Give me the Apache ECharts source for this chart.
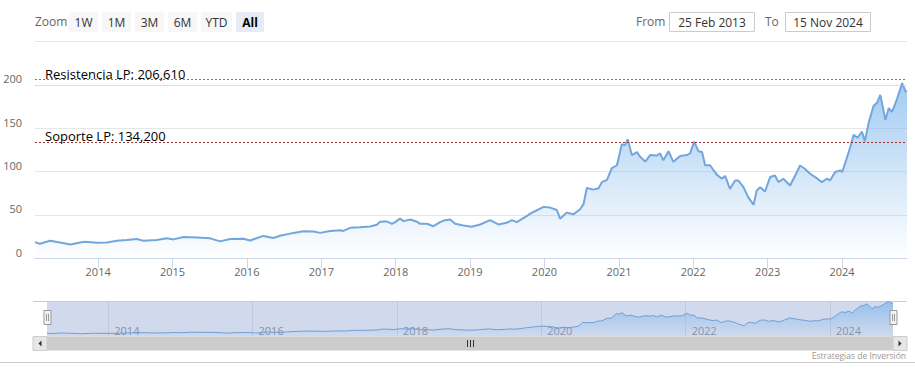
<!DOCTYPE html>
<html><head><meta charset="utf-8">
<script src="https://cdn.jsdelivr.net/npm/echarts@6/dist/echarts.min.js"></script>
<style>html,body{margin:0;padding:0;background:#fff}#c{width:915px;height:374px}</style>
</head><body><div id="c"></div>
<script>
const dates = ['2013-02-25','2013-03-21','2013-05-10','2013-06-28','2013-08-17','2013-10-05','2013-10-29','2013-12-26',
'2014-02-13','2014-04-03','2014-05-22','2014-07-10','2014-08-11','2014-10-16','2014-12-04',
'2015-01-06','2015-02-24','2015-05-01','2015-07-05','2015-08-23','2015-10-11','2015-12-15',
'2016-01-17','2016-03-22','2016-05-11','2016-06-12','2016-08-17','2016-10-05','2016-11-23','2016-12-26',
'2017-02-13','2017-04-03','2017-04-19','2017-05-22','2017-07-10','2017-08-28','2017-09-30','2017-10-16','2017-11-18','2017-12-13','2017-12-29',
'2018-01-22','2018-02-08','2018-03-13','2018-04-15','2018-05-01','2018-06-03','2018-07-05','2018-08-07','2018-08-31','2018-09-25','2018-10-20','2018-11-29',
'2019-01-09','2019-02-19','2019-04-09','2019-05-20','2019-06-30','2019-07-25','2019-08-18','2019-10-06','2019-10-23','2019-11-08','2019-12-11','2019-12-27',
'2020-01-29','2020-03-02','2020-03-18','2020-04-20','2020-05-22','2020-06-24','2020-07-11','2020-07-27','2020-08-29','2020-09-23','2020-10-09','2020-11-03','2020-11-27','2020-12-22',
'2021-01-15','2021-01-31','2021-02-13','2021-03-05','2021-03-30','2021-04-15','2021-05-10','2021-06-03','2021-07-06','2021-07-22','2021-08-07','2021-09-01','2021-09-25','2021-10-28','2021-11-30','2021-12-16',
'2022-01-05','2022-01-26','2022-02-13','2022-02-28','2022-03-24','2022-04-26','2022-05-21','2022-06-06','2022-06-30','2022-07-25','2022-08-10','2022-09-04','2022-09-28','2022-10-24','2022-11-08','2022-11-25','2022-12-19',
'2023-01-13','2023-02-06','2023-02-23','2023-03-19','2023-04-21','2023-05-16','2023-06-09','2023-07-04','2023-07-28','2023-08-22','2023-09-24','2023-10-18','2023-11-04','2023-11-28','2023-12-23',
'2024-01-02','2024-01-25','2024-02-10','2024-02-27','2024-03-17','2024-04-08','2024-04-22','2024-05-11','2024-06-04','2024-06-21','2024-07-07','2024-08-01','2024-08-17','2024-09-03','2024-09-28','2024-10-22','2024-11-07','2024-11-15'];
const prices = [18.7,16.7,20.2,18.3,16.0,18.3,19.1,17.9,
18.3,20.2,21.0,22.2,20.2,21.0,23.0,
21.8,24.6,24.1,23.0,19.5,22.2,22.6,
20.6,25.8,23.4,26.0,29.3,31.2,30.8,29.3,
31.6,32.3,31.6,35.1,35.8,36.7,38.6,42.2,42.5,39.8,41.7,
45.7,42.9,44.8,42.2,39.8,39.8,37.0,41.7,44.0,44.8,39.8,37.8,
36.3,39.0,44.0,39.0,41.0,44.0,41.7,48.7,51.5,53.4,57.4,59.3,
58.5,55.7,45.7,52.7,50.7,56.6,62.4,81.0,79.2,80.8,87.8,90.5,104.0,107.3,
131.5,130.5,137.4,119.0,122.5,117.1,111.5,119.0,118.5,121.0,113.0,123.5,111.2,118.0,119.0,121.0,
134.5,123.5,122.5,107.3,107.3,96.5,91.7,95.0,80.0,89.7,89.7,82.0,70.3,61.6,78.0,82.0,77.0,
93.7,95.5,87.8,91.7,84.0,95.5,107.0,103.0,97.5,93.7,87.8,91.7,90.0,99.5,101.4,
99.5,116.0,128.0,142.4,139.0,146.0,135.0,156.5,176.0,179.5,188.5,159.5,173.0,169.0,184.5,202.0,193.0,192.0];
const yearTicks = ['2014-01-01','2015-01-01','2016-01-01','2017-01-01','2018-01-01','2019-01-01','2020-01-01','2021-01-01','2022-01-01','2023-01-01','2024-01-01'];
const navTicks = ['2014-01-01','2016-01-01','2018-01-01','2020-01-01','2022-01-01','2024-01-01'];
const plotLineValues = [206.61, 134.2];
const plotLineLabels = ['Resistencia LP: 206,610', 'Soporte LP: 134,200'];
const rangeButtons = ['1W','1M','3M','6M','YTD','All'];
const fromText = '25 Feb 2013', toText = '15 Nov 2024';
const startDate = '2013-02-25', endDate = '2024-11-15';
const creditText = 'Estrategias de Inversión';

const ts = s => { const p = s.split('-').map(Number); return new Date(p[0], p[1]-1, p[2]).getTime(); };
const seriesData = dates.map((d,i)=>[ts(d), prices[i]]);
const FONT = '"Open Sans", "Noto Sans", sans-serif';
const areaGrad = () => new echarts.graphic.LinearGradient(0,0,0,1,[{offset:0,color:'rgba(124,181,236,1)'},{offset:1,color:'rgba(124,181,236,0)'}]);
const yearFmt = v => String(new Date(v).getFullYear());

const chart = echarts.init(document.getElementById('c'), null, {renderer:'svg'});

const g = [];
g.push({type:'text', x:35, y:21.5, style:{text:'Zoom', fill:'#666', fontSize:12, fontFamily:FONT, verticalAlign:'middle', align:'left'}});
const btnX = [69, 102, 135, 168, 201, 236];
const btnW = [29, 29, 29, 29, 31, 28];
rangeButtons.forEach((b,i)=>{
  const sel = b === 'All';
  g.push({type:'rect', shape:{x:btnX[i], y:12, width:btnW[i], height:20}, style:{fill: sel?'#e6ebf5':'#f7f7f7'}});
  g.push({type:'text', x:btnX[i]+btnW[i]/2, y:22, style:{text:b, fill: sel?'#000':'#333', fontSize:12, fontWeight: sel?'bold':'normal', fontFamily:FONT, align:'center', verticalAlign:'middle'}});
});
g.push({type:'text', x:636, y:21.5, style:{text:'From', fill:'#666', fontSize:12, fontFamily:FONT, verticalAlign:'middle'}});
g.push({type:'rect', shape:{x:669.5, y:12.5, width:85, height:19}, style:{fill:'#fff', stroke:'#cccccc', lineWidth:1}});
g.push({type:'text', x:712, y:22, style:{text:fromText, fill:'#333', fontSize:12, fontFamily:FONT, align:'center', verticalAlign:'middle'}});
g.push({type:'text', x:765, y:21.5, style:{text:'To', fill:'#666', fontSize:12, fontFamily:FONT, verticalAlign:'middle'}});
g.push({type:'rect', shape:{x:785.5, y:12.5, width:85, height:19}, style:{fill:'#fff', stroke:'#cccccc', lineWidth:1}});
g.push({type:'text', x:828, y:22, style:{text:toText, fill:'#333', fontSize:12, fontFamily:FONT, align:'center', verticalAlign:'middle'}});
g.push({type:'line', shape:{x1:33, y1:301.5, x2:907, y2:301.5}, style:{stroke:'#cccccc', lineWidth:1}});
[47.5, 893.5].forEach(cx=>{
  g.push({type:'rect', shape:{x:cx-3.5, y:310.5, width:7, height:14}, style:{fill:'#f2f2f2', stroke:'#999999', lineWidth:1}, z:10});
  g.push({type:'line', shape:{x1:cx-1, y1:314, x2:cx-1, y2:321}, style:{stroke:'#999999', lineWidth:1}, z:11});
  g.push({type:'line', shape:{x1:cx+1, y1:314, x2:cx+1, y2:321}, style:{stroke:'#999999', lineWidth:1}, z:11});
});
g.push({type:'rect', shape:{x:47, y:336.5, width:846, height:14}, style:{fill:'#cccccc'}});
g.push({type:'rect', shape:{x:33, y:336.5, width:14, height:14}, style:{fill:'#e6e6e6', stroke:'#cccccc', lineWidth:1}});
g.push({type:'rect', shape:{x:893, y:336.5, width:14, height:14}, style:{fill:'#e6e6e6', stroke:'#cccccc', lineWidth:1}});
g.push({type:'polygon', shape:{points:[[41.5,340.5],[41.5,346.5],[38.5,343.5]]}, style:{fill:'#333'}});
g.push({type:'polygon', shape:{points:[[898.5,340.5],[898.5,346.5],[901.5,343.5]]}, style:{fill:'#333'}});
[467.5, 470.5, 473.5].forEach(x=>g.push({type:'line', shape:{x1:x, y1:340, x2:x, y2:347}, style:{stroke:'#333', lineWidth:1}}));
g.push({type:'line', shape:{x1:0, y1:362.5, x2:915, y2:362.5}, style:{stroke:'#cccccc', lineWidth:1}});
g.push({type:'text', x:906, y:355.5, style:{text:creditText, fill:'#999', fontSize:8.5, fontFamily:FONT, align:'right', verticalAlign:'middle'}});

const plColors = ['#56984a', '#9c3030'];

chart.setOption({
  animation:false,
  backgroundColor:'#fff',
  textStyle:{fontFamily:FONT},
  grid:[
    {left:35, right:8, top:41.5, height:216.8},
    {left:47, right:22, top:301.5, height:35, show:true, backgroundColor:'rgba(102,133,194,0.3)', borderWidth:0}
  ],
  xAxis:[
    {type:'value', gridIndex:0, min:ts(startDate), max:ts(endDate),
     axisLine:{lineStyle:{color:'#ccd6eb'}},
     axisTick:{show:true, length:10, lineStyle:{color:'#ccd6eb'}, customValues: yearTicks.map(ts)},
     axisLabel:{customValues: yearTicks.map(ts), formatter: yearFmt, color:'#666', fontSize:11, margin:8, fontFamily:FONT},
     splitLine:{show:false}},
    {type:'value', gridIndex:1, min:ts(startDate), max:ts(endDate),
     axisLine:{show:false},
     axisTick:{show:false, customValues: navTicks.map(ts)},
     axisLabel:{inside:true, customValues: navTicks.map(ts), formatter: yearFmt, color:'#8790a6', fontSize:11, margin:1, align:'left', padding:[0,0,0,6], fontFamily:FONT},
     splitLine:{show:true, lineStyle:{color:'#c0c9db', width:1}}}
  ],
  yAxis:[
    {type:'value', gridIndex:0, min:0, max:250, interval:50,
     axisLine:{show:false}, axisTick:{show:false},
     axisLabel:{showMaxLabel:false, color:'#666', fontSize:11, margin:13, verticalAlign:'bottom', lineHeight:12, fontFamily:FONT},
     splitLine:{lineStyle:{color:'#e6e6e6'}}},
    {type:'value', gridIndex:1, min:0, max:'dataMax', show:false, splitLine:{show:false}}
  ],
  graphic: g,
  series:[
    {type:'line', xAxisIndex:0, yAxisIndex:0, data:seriesData, symbol:'none', showSymbol:false,
     lineStyle:{color:'#72a6dc', width:2}, itemStyle:{color:'#7cb5ec'},
     areaStyle:{color:areaGrad()},
     markLine:{symbol:['none','none'], silent:true,
       data:[
         {yAxis:200, lineStyle:{color:'#ecc8d6', type:[2,2], width:1}, label:{show:false}},
         ...plotLineValues.map((v,i)=>({yAxis:v, lineStyle:{color:plColors[i], type:[2,2], width:1},
           label:{show:true, position:'insideStartTop', formatter:plotLineLabels[i], color:'#000', fontSize:13, fontFamily:FONT, distance:[10,-1]}}))
       ]}
    },
    {type:'line', xAxisIndex:1, yAxisIndex:1, data:seriesData, symbol:'none', showSymbol:false,
     lineStyle:{color:'#6f9fd8', width:1},
     areaStyle:{color:areaGrad()}}
  ]
});
</script></body></html>
